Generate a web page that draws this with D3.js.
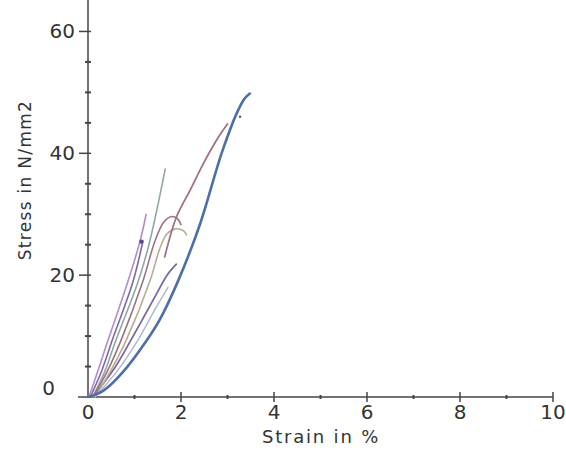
<!DOCTYPE html>
<html lang="en">
<head>
<meta charset="UTF-8">
<title>Stress strain</title>
<script src="https://cdn.jsdelivr.net/npm/d3@7"></script>
<style>
  body { margin:0; background:#fff; }
  text { font-family: "DejaVu Sans", Verdana, sans-serif; fill:#333; }
  .curve { fill:none; }
</style>
</head>
<body>
<svg id="chart" width="566" height="452"></svg>
<script>
// x ticks (strain %) and y ticks (stress N/mm2)
const xTicks = [0, 2, 4, 6, 8, 10]
const yTicks = [0, 20, 40, 60]

// curves, [strain, stress]
const mainCurve = [[0,0],[0.3,0.9],[0.84,4.9],[1.2,8.6],[1.55,12.8],[1.94,19.1],[2.41,28.4],[2.9,40.6],[3.2,46.6],[3.35,48.8],[3.48,49.8]]
const magenta   = [[0.02,0],[0.2,4],[0.43,9.3],[0.86,19],[1.12,25.6],[1.25,30]]
const purple    = [[0.05,0],[0.3,4.4],[0.52,9.3],[0.97,19],[1.18,25.6]]
const greyGreen = [[0.1,0],[0.35,4],[0.6,9.3],[1.08,19],[1.33,25.6],[1.66,37.4]]
const redHump   = [[0.1,0],[0.4,4],[0.71,9.3],[1.18,19],[1.44,25.6],[1.62,28.6],[1.78,29.6],[1.92,29.3],[2.0,28.3]]
const redUpper  = [[1.65,23],[1.9,29.5],[2.2,34],[2.5,38.6],[2.8,42.6],[3.0,44.8]]
const tanHump   = [[0.15,0],[0.5,4.5],[0.82,9.3],[1.33,19],[1.55,24.5],[1.7,26.8],[1.88,27.6],[2.05,27.3],[2.12,26.6]]
const violet    = [[0.1,0],[0.55,4.5],[0.92,9.3],[1.48,17],[1.7,20],[1.9,21.8]]
const lightBlue = [[0.15,0],[0.65,4.5],[1.07,9.3],[1.45,14.5],[1.72,18]]
const dots = [[1.15,25.5],[3.27,46]]

const svg = d3.select("#chart")
const x = d3.scaleLinear().domain([0,10]).range([88,553])
const y = d3.scaleLinear().domain([0,65]).range([397,1])

// x axis
const xg = svg.append("g").attr("transform","translate(0,397)")
xg.append("line").attr("x1",78).attr("x2",x(10)).attr("stroke","#444").attr("stroke-width",1.5)
xg.selectAll(".minor").data(d3.range(1,11,2)).join("line")
  .attr("x1",d=>x(d)).attr("x2",d=>x(d)).attr("y1",-2).attr("y2",2).attr("stroke","#444").attr("stroke-width",2)
xg.selectAll(".major").data(xTicks.slice(1)).join("line")
  .attr("x1",d=>x(d)).attr("x2",d=>x(d)).attr("y1",-5).attr("y2",5).attr("stroke","#444").attr("stroke-width",1.5)
xg.selectAll("text").data(xTicks).join("text")
  .attr("x",d=>x(d)).attr("y",22).attr("text-anchor","middle")
  .style("font-size","20px").text(d=>d)

// y axis
const yg = svg.append("g").attr("transform","translate(88,0)")
yg.append("line").attr("y1",0).attr("y2",y(0)).attr("stroke","#444").attr("stroke-width",1.5)
yg.selectAll(".minor").data(d3.range(5,65,5).filter(d=>d%20)).join("line")
  .attr("y1",d=>y(d)).attr("y2",d=>y(d)).attr("x1",-3).attr("x2",3).attr("stroke","#444").attr("stroke-width",2)
yg.selectAll(".major").data(yTicks.slice(1)).join("line")
  .attr("y1",d=>y(d)).attr("y2",d=>y(d)).attr("x1",-9).attr("x2",3).attr("stroke","#444").attr("stroke-width",1.5)
yg.selectAll("text").data(yTicks).join("text")
  .attr("x",d=>d===0?-33:-13).attr("y",d=>y(d)+(d===0?-2:7)).attr("text-anchor","end")
  .style("font-size","20px").text(d=>d)

// titles
svg.append("text").attr("x",321).attr("y",443).attr("text-anchor","middle")
  .style("font-size","18px").attr("letter-spacing","1.8px").text("Strain in %")
svg.append("text").attr("transform","translate(31,180) rotate(-90)").attr("text-anchor","middle")
  .style("font-size","17px").attr("letter-spacing","1.3px").text("Stress in N/mm2")

// curves
const smooth = d3.line().x(d=>x(d[0])).y(d=>y(d[1])).curve(d3.curveCatmullRom)
const mono = d3.line().x(d=>x(d[0])).y(d=>y(d[1])).curve(d3.curveMonotoneX)
const series = [
  {d:magenta, c:"#b48cc8", w:1.6},
  {d:purple, c:"#7a6aa8", w:1.6},
  {d:greyGreen, c:"#8fa8a0", w:1.6},
  {d:lightBlue, c:"#a8b8cc", w:1.4},
  {d:violet, c:"#7868a8", w:1.8},
  {d:tanHump, c:"#b8ac8c", w:1.6},
  {d:redHump, c:"#a07080", w:1.6},
  {d:redUpper, c:"#a07088", w:1.8},
  {d:mainCurve, c:"#4e6ea8", w:2.6, m:true}
]
svg.selectAll("path.curve").data(series).join("path").attr("class","curve")
  .attr("d",s=>s.m ? mono(s.d) : smooth(s.d)).attr("stroke",s=>s.c).attr("stroke-width",s=>s.w)
  .attr("stroke-linecap","round")
svg.selectAll("circle").data(dots).join("circle")
  .attr("cx",d=>x(d[0])).attr("cy",d=>y(d[1])).attr("r",(d,i)=>i?1.2:2.2).attr("fill","#5a4a90")
</script>
</body>
</html>
